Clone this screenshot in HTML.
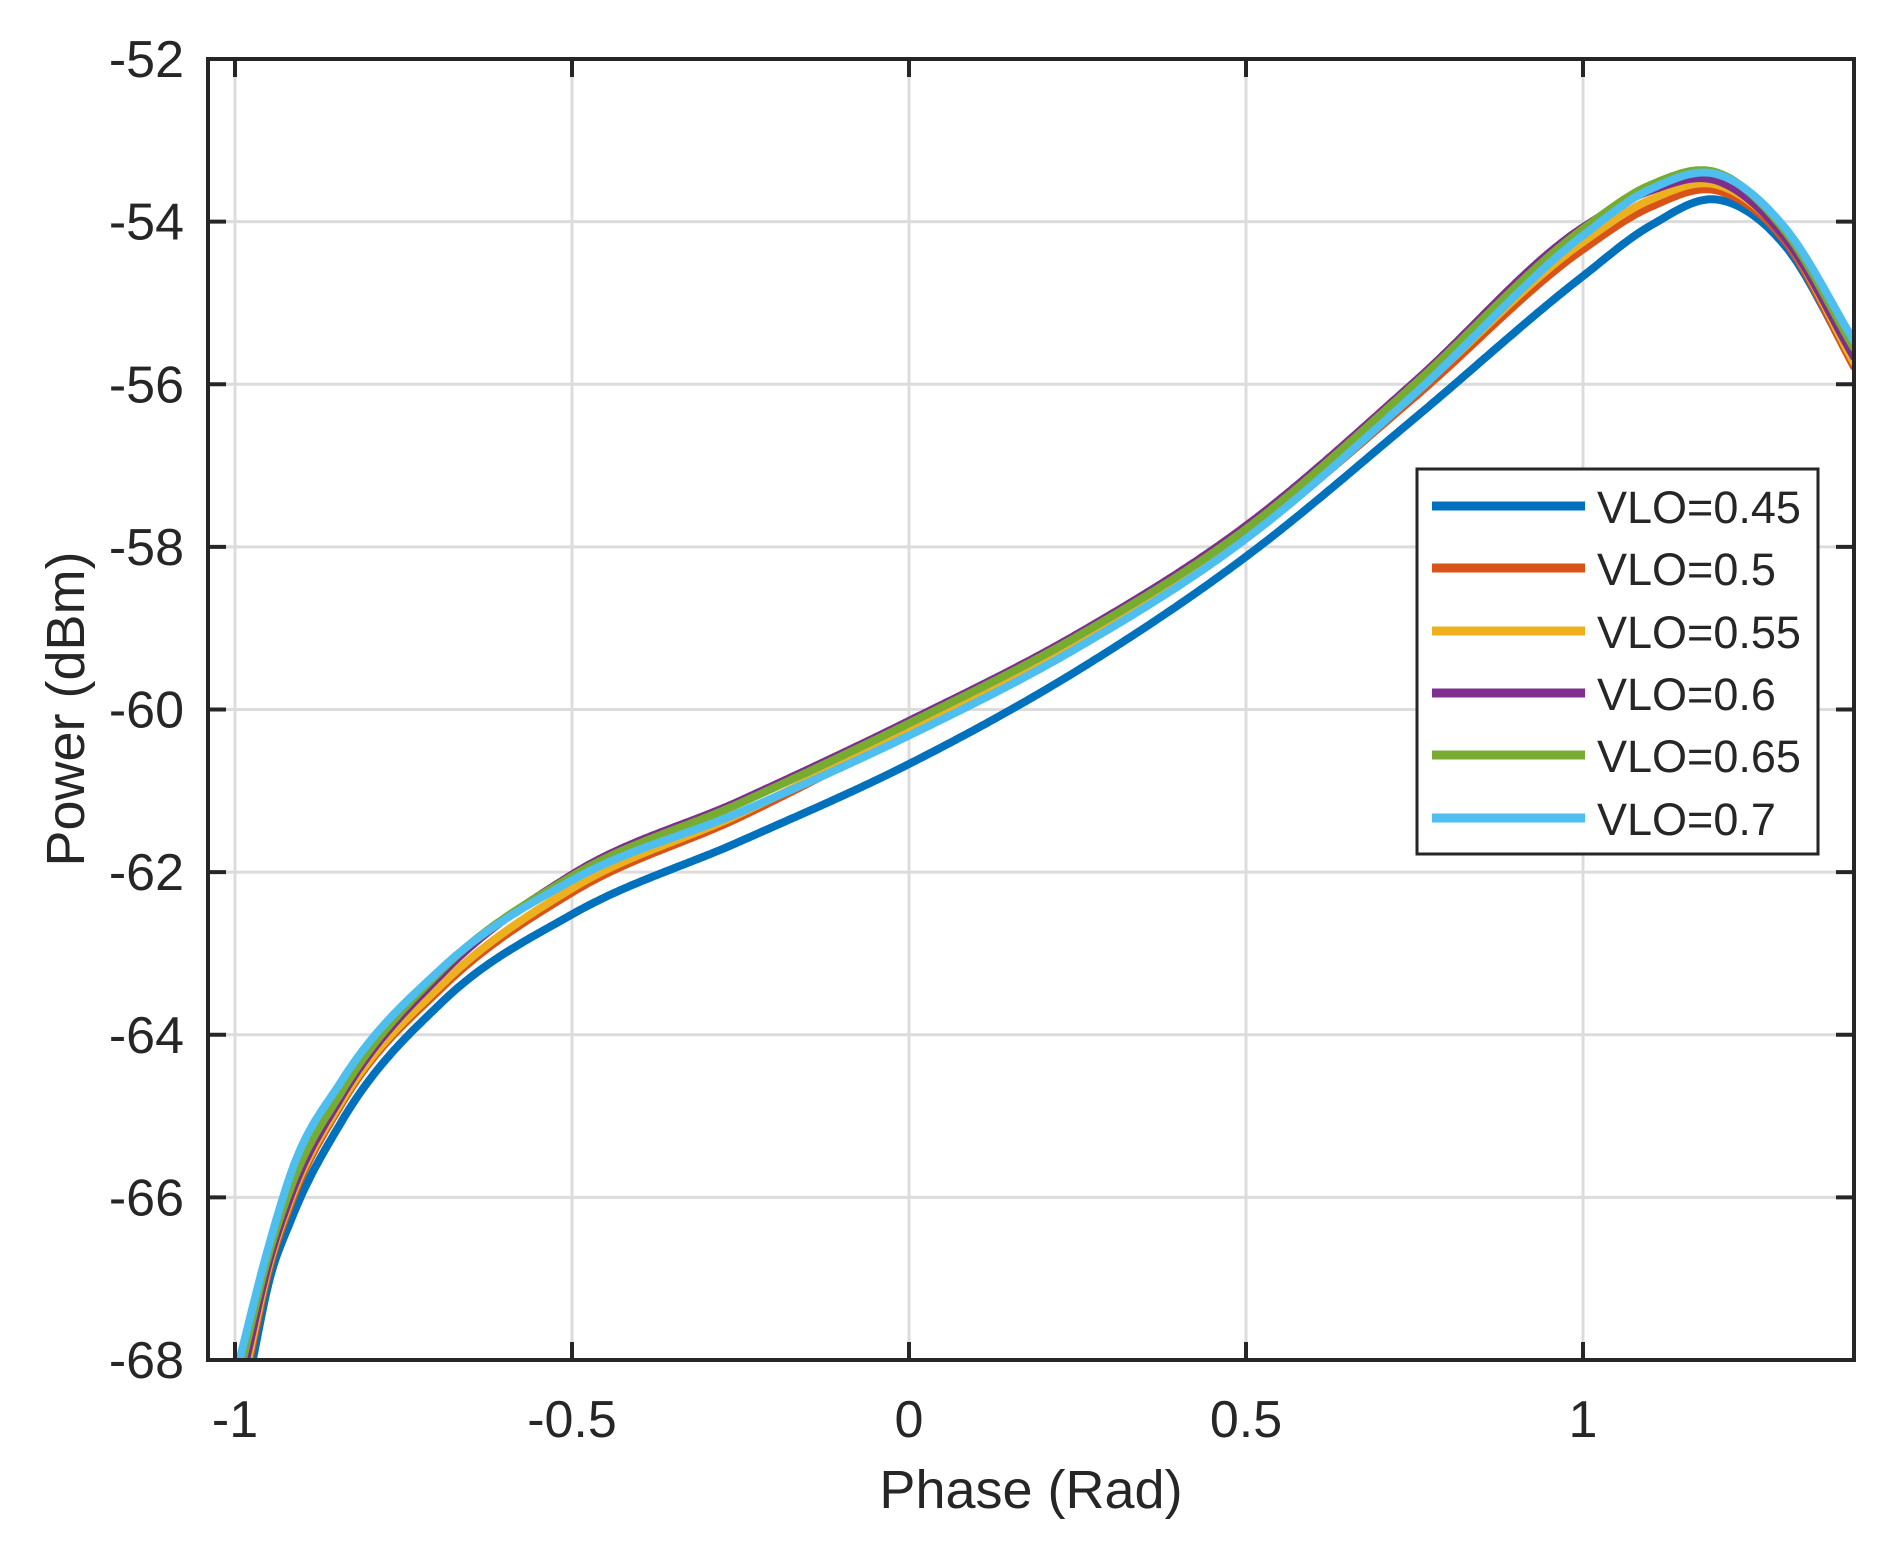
<!DOCTYPE html>
<html><head><meta charset="utf-8"><style>
html,body{margin:0;padding:0;background:#fff;}
svg{display:block;}
text{font-family:"Liberation Sans",Arial,sans-serif;fill:#262626;}
</style></head><body>
<svg id="s" width="1891" height="1546" xmlns="http://www.w3.org/2000/svg">
<defs><clipPath id="c"><rect x="208" y="59" width="1646" height="1301"/></clipPath></defs>
<rect width="1891" height="1546" fill="#fff"/>
<g id="grid" stroke="#dcdcdc" stroke-width="3"></g>
<g id="curves" clip-path="url(#c)" fill="none" stroke-width="8" stroke-linejoin="round"></g>
<rect x="208" y="59" width="1646" height="1301" fill="none" stroke="#262626" stroke-width="4"/>
<g id="ticks" stroke="#262626" stroke-width="4"></g>
<g id="labels" font-size="52"></g>
<text x="1031" y="1508" font-size="54" text-anchor="middle">Phase (Rad)</text>
<text x="0" y="0" font-size="54" text-anchor="middle" transform="translate(84,709) rotate(-90)">Power (dBm)</text>
<g>
<rect x="1417" y="469" width="401" height="385" fill="#fff" stroke="#262626" stroke-width="3"/>
<line x1="1432" x2="1585" y1="506" y2="506" stroke="#0072bd" stroke-width="9"/>
<line x1="1432" x2="1585" y1="568" y2="568" stroke="#d95319" stroke-width="9"/>
<line x1="1432" x2="1585" y1="631" y2="631" stroke="#edb120" stroke-width="9"/>
<line x1="1432" x2="1585" y1="693" y2="693" stroke="#7e2f8e" stroke-width="9"/>
<line x1="1432" x2="1585" y1="755" y2="755" stroke="#77ac30" stroke-width="9"/>
<line x1="1432" x2="1585" y1="818" y2="818" stroke="#4dbeee" stroke-width="9"/>
<g font-size="45" fill="#000">
<text x="1597" y="523">VLO=0.45</text>
<text x="1597" y="585">VLO=0.5</text>
<text x="1597" y="648">VLO=0.55</text>
<text x="1597" y="710">VLO=0.6</text>
<text x="1597" y="772">VLO=0.65</text>
<text x="1597" y="835">VLO=0.7</text>
</g>
</g>
</svg>
<script>
var NS="http://www.w3.org/2000/svg";
function X(x){return 909+674*x;}
function Y(y){return 59+(-52-y)*81.3125;}
function el(p,n,a){var e=document.createElementNS(NS,n);for(var k in a)e.setAttribute(k,a[k]);p.appendChild(e);return e;}
var grid=document.getElementById('grid'),ticks=document.getElementById('ticks'),labels=document.getElementById('labels');
var xt=[-1,-0.5,0,0.5,1],xl=["-1","-0.5","0","0.5","1"];
xt.forEach(function(v,i){var x=X(v);
 el(grid,'line',{x1:x,x2:x,y1:59,y2:1360});
 el(ticks,'line',{x1:x,x2:x,y1:1360,y2:1342});el(ticks,'line',{x1:x,x2:x,y1:59,y2:77});
 var t=el(labels,'text',{x:x,y:1437,'text-anchor':'middle'});t.textContent=xl[i];});
for(var v=-68;v<=-52;v+=2){var y=Y(v);
 if(v>-68&&v<-52)el(grid,'line',{x1:208,x2:1854,y1:y,y2:y});
 el(ticks,'line',{x1:208,x2:226,y1:y,y2:y});el(ticks,'line',{x1:1854,x2:1836,y1:y,y2:y});
 var t=el(labels,'text',{x:184,y:y+18,'text-anchor':'end'});t.textContent=String(v);}
var nx=[-0.842,-0.693,-0.5,-0.25,0,0.25,0.5,0.75,1.0,1.1,1.2,1.3,1.403];
var blue=[-65.07,-63.6,-62.52,-61.62,-60.67,-59.52,-58.12,-56.42,-54.67,-54.05,-53.73,-54.3,-55.78];
var S=[
 ["#0072bd",-0.975,-67.05,-66.26,[0,0,0,0,0,0,0,0,0,0,0,0,0]],
 ["#d95319",-0.98,-66.9,-66.05,[.22,.18,.27,.3,.4,.32,.24,.26,.33,.23,.11,.06,-.02]],
 ["#edb120",-0.982,-66.85,-66.0,[.25,.22,.32,.34,.43,.35,.28,.31,.42,.32,.18,.1,.03]],
 ["#7e2f8e",-0.985,-66.8,-65.95,[.31,.35,.49,.5,.53,.45,.38,.45,.6,.43,.23,.1,.1]],
 ["#77ac30",-0.99,-66.7,-65.85,[.37,.4,.47,.47,.5,.42,.34,.42,.58,.5,.33,.18,.21]],
 ["#4dbeee",-0.995,-66.6,-65.68,[.5,.42,.42,.36,.35,.28,.22,.3,.5,.45,.31,.22,.3]]
];
var cg=document.getElementById('curves');
S.forEach(function(s){
 var px=[s[1],-0.95,-0.916].concat(nx), py=[-68.05,s[2],s[3]];
 for(var j=0;j<nx.length;j++)py.push(blue[j]+s[4][j]);
 var n=px.length,m=[];
 for(var i=0;i<n;i++){
  if(i==0)m.push((py[1]-py[0])/(px[1]-px[0]));
  else if(i==n-1)m.push((py[n-1]-py[n-2])/(px[n-1]-px[n-2]));
  else{var h0=px[i]-px[i-1],h1=px[i+1]-px[i],d0=(py[i]-py[i-1])/h0,d1=(py[i+1]-py[i])/h1;
   m.push((d0*h1+d1*h0)/(h0+h1));}
 }
 var d="";
 for(var i=0;i<n-1;i++){
  var h=px[i+1]-px[i],steps=Math.max(4,Math.ceil(h/0.004));
  for(var k=(i==0?0:1);k<=steps;k++){
   var t=k/steps,t2=t*t,t3=t2*t;
   var y=(2*t3-3*t2+1)*py[i]+(t3-2*t2+t)*h*m[i]+(-2*t3+3*t2)*py[i+1]+(t3-t2)*h*m[i+1];
   var x=px[i]+t*h;
   d+=(d?" L":"M")+X(x).toFixed(1)+","+Y(y).toFixed(1);
  }
 }
 el(cg,'path',{d:d,stroke:s[0]});
});
</script>
</body></html>
